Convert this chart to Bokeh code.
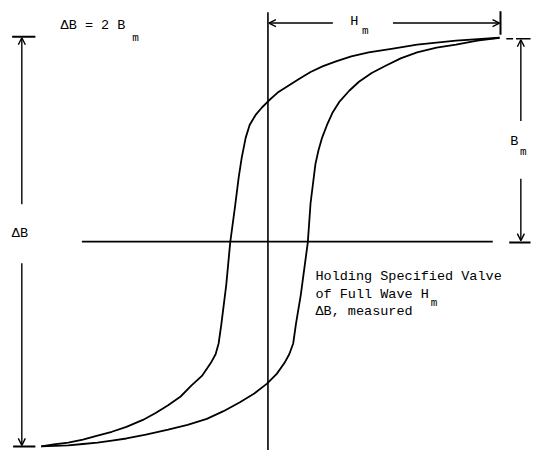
from bokeh.plotting import figure
from bokeh.models import Range1d, Arrow, OpenHead, Label
from bokeh.embed import file_html
from bokeh.resources import INLINE

# Hysteresis loop (normalised: H/Hm, B/Bm)
H_desc = [1.000, 0.812, 0.644, 0.540, 0.435, 0.360, 0.297, 0.238, 0.184, 0.134,
          0.088, 0.042, 0.004, -0.025, -0.054, -0.079, -0.096, -0.113, -0.126, -0.142,
          -0.163, -0.180, -0.201, -0.213, -0.226, -0.247, -0.285, -0.331, -0.377, -0.431,
          -0.485, -0.540, -0.611, -0.674, -0.736, -0.799, -0.862, -0.925, -0.979]
B_desc = [1.000, 0.986, 0.966, 0.947, 0.928, 0.909, 0.885, 0.861, 0.832, 0.798,
          0.764, 0.731, 0.692, 0.659, 0.620, 0.572, 0.510, 0.413, 0.317, 0.173,
          -0.005, -0.212, -0.404, -0.500, -0.553, -0.596, -0.659, -0.707, -0.760, -0.803,
          -0.841, -0.875, -0.909, -0.933, -0.952, -0.971, -0.986, -0.995, -1.005]

H_asc = [-0.979, -0.862, -0.799, -0.736, -0.674, -0.611, -0.527, -0.431, -0.347, -0.264,
         -0.192, -0.121, -0.059, -0.004, 0.038, 0.071, 0.092, 0.109, 0.121, 0.142,
         0.172, 0.184, 0.205, 0.218, 0.234, 0.255, 0.280, 0.310, 0.351, 0.393,
         0.448, 0.506, 0.573, 0.644, 0.728, 0.812, 0.904, 1.000]
B_asc = [-1.005, -1.000, -0.993, -0.986, -0.976, -0.966, -0.947, -0.923, -0.899, -0.870,
         -0.832, -0.788, -0.745, -0.697, -0.649, -0.596, -0.553, -0.500, -0.404, -0.260,
         -0.005, 0.188, 0.380, 0.447, 0.510, 0.572, 0.635, 0.688, 0.740, 0.784,
         0.827, 0.861, 0.899, 0.928, 0.952, 0.966, 0.986, 1.000]

note_lines = ["Holding Specified Valve", "of Full Wave H", "\u0394B, measured"]

# reference-pixel -> data helpers (loop origin at reference pixel 276,246)
SX, SY = 239.0, 208.0
KX, KY = 0.969, 0.98   # squeeze reference layout into the 531x450 canvas
W, H = 531, 450
def X(px):
    return (px - 276) / SX
def Y(py):
    return (246 - py) / SY

p = figure(width=W, height=H,
           x_range=Range1d(X(0), X(W / KX)), y_range=Range1d(Y(H / KY), Y(0)),
           output_backend="svg", toolbar_location=None, min_border=0,
           x_axis_location=None, y_axis_location=None, outline_line_color=None)
p.grid.visible = False

LW = 1.6
# axes
p.line([X(276), X(276)], [Y(12), Y(480)], line_color="black", line_width=LW)
p.line([X(84), X(508)], [Y(246), Y(246)], line_color="black", line_width=LW)

# loop
p.line(H_desc, B_desc, line_color="black", line_width=1.8, line_join="round")
p.line(H_asc, B_asc, line_color="black", line_width=1.8, line_join="round")

def arrow(x0, y0, x1, y1):
    p.add_layout(Arrow(end=OpenHead(size=7, line_width=1.4, line_color="black"),
                       x_start=X(x0), y_start=Y(y0), x_end=X(x1), y_end=Y(y1),
                       line_width=1.4, line_color="black"))

def seg(x0, y0, x1, y1, w=1.5):
    p.line([X(x0), X(x1)], [Y(y0), Y(y1)], line_color="black", line_width=w)

# Hm dimension
arrow(343, 23, 277, 23)
arrow(405, 23, 515, 23)
seg(516, 11, 516, 35, 2)

# Bm dimension
arrow(537, 123, 537, 40)
arrow(537, 182, 537, 245)
seg(522, 39, 529, 39)
seg(532, 39, 547, 39)
seg(525, 247, 547, 247, 2)

# Delta B dimension
arrow(22, 208, 22, 38)
arrow(22, 268, 22, 454)
seg(12, 37, 36, 37, 2)
seg(13, 455, 36, 455, 2)

FONT = "Liberation Mono"
def label(px, py, txt, size="13.5px", align="left"):
    p.add_layout(Label(x=X(px), y=Y(py), text=txt, text_font=FONT,
                       text_font_size=size, text_align=align,
                       text_baseline="middle", text_color="black"))

label(62, 25, "\u0394B = 2 B")
label(136, 38, "m", "11px")
label(361, 21, "H")
label(373, 31, "m", "11px")
label(526, 144, "B")
label(536, 155, "m", "11px")
label(20, 238, "\u0394B", align="center")

for i, t in enumerate(note_lines):
    label(325, 282 + 17.5 * i, t)
label(444, 309, "m", "11px")

open("out.html", "w").write(file_html(p, INLINE))
